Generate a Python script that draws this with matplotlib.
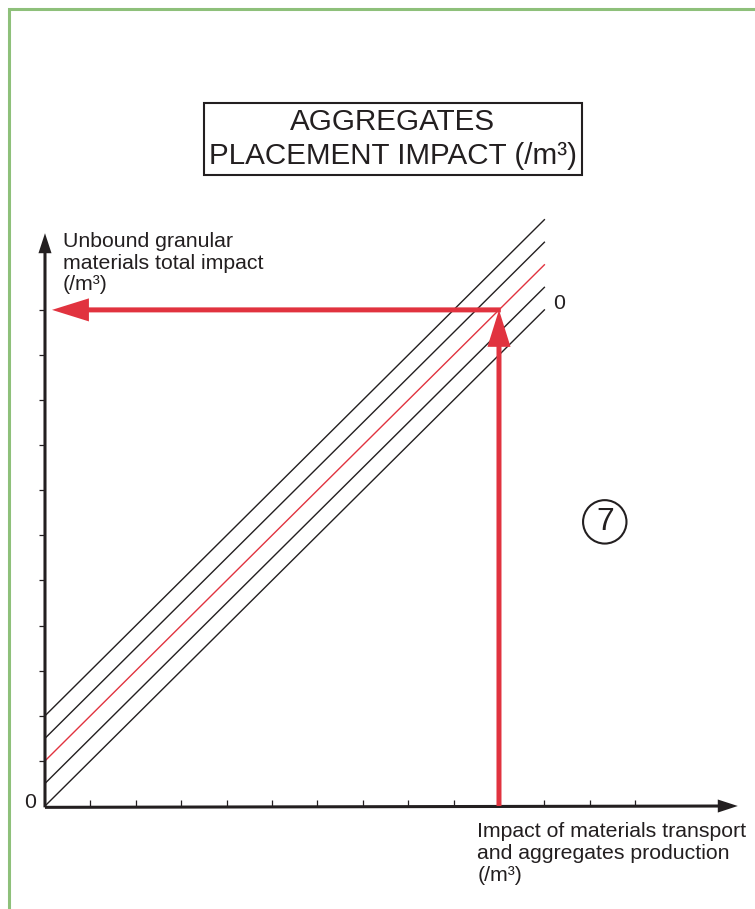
import matplotlib.pyplot as plt
from matplotlib.patches import FancyArrowPatch, Rectangle

plt.rcParams['font.family'] = ['Liberation Sans', 'DejaVu Sans']

# chart values (1 unit = one tick step)
x_ticks = list(range(1, 14))
y_ticks = list(range(1, 12))
line_offsets = [0, 0.5, 1.5, 2]   # black lines (y = x + offset)
red_offset = 1                    # red reference line
line_end = 11
x_read = 10
y_read = x_read + red_offset
x_axis_end = 15.26
y_axis_end = 12.7

ink = '#231f20'
red = '#e1333f'

fig = plt.figure(figsize=(7.55, 9.09), dpi=100)
ax = fig.add_axes([0, 0, 1, 1])
ax.set_xlim(-0.991, 15.639)
ax.set_ylim(-2.284, 17.871)
ax.patch.set_visible(False)

# ticks on the axes through zero
for s in ['top', 'right']:
    ax.spines[s].set_visible(False)
ax.spines['left'].set_position(('data', 0))
ax.spines['bottom'].set_position(('data', 0))
ax.spines['left'].set_visible(False)
ax.spines['bottom'].set_visible(False)
ax.set_xticks(x_ticks)
ax.set_yticks(y_ticks)
ax.tick_params(axis='x', direction='in', length=4.3, width=0.9, color=ink, labelbottom=False)
ax.tick_params(axis='y', direction='out', length=4.3, width=0.9, color=ink, labelleft=False)

# axes with arrow heads
ax.add_patch(FancyArrowPatch((0, -0.03), (x_axis_end, 0), mutation_scale=1, shrinkA=0, shrinkB=0,
                             arrowstyle='simple,head_length=14.4,head_width=9.4,tail_width=2.2',
                             color=ink, lw=0, zorder=3))
ax.add_patch(FancyArrowPatch((0, -0.03), (0, y_axis_end), mutation_scale=1, shrinkA=0, shrinkB=0,
                             arrowstyle='simple,head_length=14.4,head_width=9.4,tail_width=2.2',
                             color=ink, lw=0, zorder=3))

# diagonal lines
for off in line_offsets:
    ax.plot([0, line_end], [off, line_end + off], color=ink, lw=1.0, zorder=2)
ax.plot([0, line_end], [red_offset, line_end + red_offset], color=red, lw=1.0, zorder=2)

# red reading arrows
ax.add_patch(FancyArrowPatch((x_read, 0), (x_read, y_read), mutation_scale=1, shrinkA=0, shrinkB=0,
                             arrowstyle='simple,head_length=26.6,head_width=16.6,tail_width=3.6',
                             color=red, lw=0, zorder=4))
ax.add_patch(FancyArrowPatch((x_read + 0.04, y_read), (0.154, y_read), mutation_scale=1, shrinkA=0, shrinkB=0,
                             arrowstyle='simple,head_length=26.6,head_width=16.6,tail_width=3.6',
                             color=red, lw=0, zorder=4))

# texts
ax.text(-0.33, 0.07, '0', fontsize=15.3, color=ink, ha='center', va='center')
ax.text(11.32, 11.15, '0', fontsize=15.3, color=ink, ha='center', va='center')
ax.text(0.396, 12.73, 'Unbound granular\nmaterials total impact\n(/m³)', fontsize=15.3,
        color=ink, ha='left', va='top', linespacing=1.18)
ax.text(9.52, -0.36, 'Impact of materials transport\nand aggregates production\n(/m³)', fontsize=15.3,
        color=ink, ha='left', va='top', linespacing=1.18)
ax.text(7.66, 14.79, 'AGGREGATES\nPLACEMENT IMPACT (/m³)', fontsize=21.3, color=ink,
        ha='center', va='center', linespacing=1.3,
        bbox=dict(boxstyle='square,pad=0.17', fc='white', ec=ink, lw=1.5))
ax.text(12.33, 6.30, '7', fontsize=23, color=ink, ha='center', va='center',
        bbox=dict(boxstyle='circle,pad=0.21', fc='white', ec=ink, lw=1.5))

# green frame
fig.patches.append(Rectangle((8.5 / 755, -0.1), 1.2, 1.09, transform=fig.transFigure,
                             fill=False, ec='#8ec07a', lw=2.2))

fig.savefig('out.png', dpi=100)
